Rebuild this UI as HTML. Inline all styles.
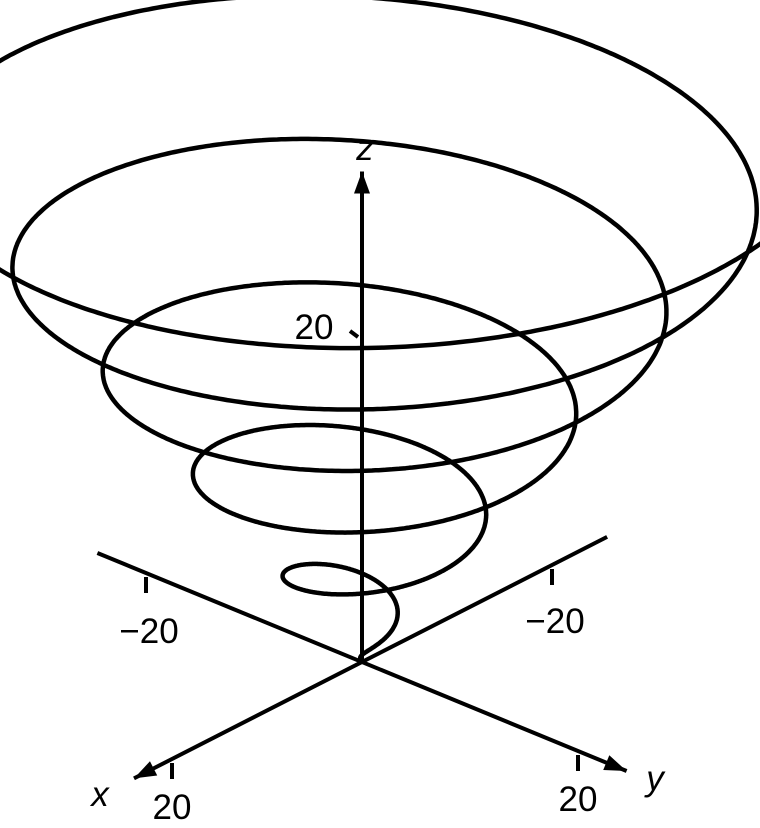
<!DOCTYPE html>
<html><head><meta charset="utf-8"><style>
html,body{margin:0;padding:0;background:#fff;}
svg{display:block;}
text{font-family:"Liberation Sans",sans-serif;font-size:35px;fill:#000;}
</style></head><body>
<svg id="chart" width="760" height="828" viewBox="0 0 760 828">
<g id="axes"></g>
<g id="curve"></g>
<g id="labels"></g>
</svg>
<script>
const xTicks=[-20,20];
const yTicks=[-20,20];
const zTicks=[20];
const tRange=[0,35.8];
const axisNames=["x","y","z"];
const O=[362,662], ex=[-9.5,4.85], ey=[10.8,4.45], ez=[0,-16.35];
function P(x,y,z){return [O[0]+x*ex[0]+y*ey[0]+z*ez[0], O[1]+x*ex[1]+y*ey[1]+z*ez[1]];}
const NS="http://www.w3.org/2000/svg";
function mk(tag,attrs,parent){const e=document.createElementNS(NS,tag);for(const k in attrs)e.setAttribute(k,attrs[k]);parent.appendChild(e);return e;}
const axes=document.getElementById('axes'), curveG=document.getElementById('curve'), labels=document.getElementById('labels');
function line(a,b,name){const l=mk('line',{x1:a[0],y1:a[1],x2:b[0],y2:b[1],stroke:'#000','stroke-width':4},axes);

return l;}
function arrow(tip,from,name){const dx=tip[0]-from[0],dy=tip[1]-from[1],L=Math.hypot(dx,dy),ux=dx/L,uy=dy/L;
const b=[tip[0]-ux*22,tip[1]-uy*22];const pts=[tip,[b[0]-uy*8,b[1]+ux*8],[b[0]+uy*8,b[1]-ux*8]].map(p=>p.join(',')).join(' ');
const a=mk('polygon',{points:pts,fill:'#000'},axes);

}
const xa=P(-25.8,0,0), xb=P(24,0,0);
line(xa,xb,'x-axis');arrow(xb,xa,'x-axis-arrow');
const ya=P(0,-24.5,0), yb=P(0,24.5,0);
line(ya,yb,'y-axis');arrow(yb,ya,'y-axis-arrow');
const za=P(0,0,0), zb=P(0,0,30);
line(za,zb,'z-axis');arrow(zb,za,'z-axis-arrow');
function txt(s,x,y,name,anchor,italic){const t=mk('text',{x:x,y:y,'text-anchor':anchor||'middle'},labels);if(italic)t.setAttribute('font-style','italic');t.textContent=s;

return t;}
function fmt(v){return v<0?'\u2212'+Math.abs(v):String(v);}
xTicks.forEach(v=>{const p=P(v,0,0);line([p[0],p[1]+4],[p[0],p[1]+20],'x-tick');txt(fmt(v),p[0]+(v<0?3:0),p[1]+(v<0?68:60),'x-tick-label');});
yTicks.forEach(v=>{const p=P(0,v,0);line([p[0],p[1]+4],[p[0],p[1]+20],'y-tick');txt(fmt(v),p[0]+(v<0?3:0),p[1]+(v<0?70:60),'y-tick-label');});
zTicks.forEach(v=>{const p=P(0,0,v);line([p[0]-12,p[1]-4],[p[0]-4,p[1]+2],'z-tick');txt(fmt(v),p[0]-48,p[1]+4,'z-tick-label');});
txt(axisNames[0],100,806,'x-axis-label','middle',true);
txt(axisNames[1],655,790,'y-axis-label','middle',true);
txt(axisNames[2],365,160,'z-axis-label','middle',true);
let d='';
for(let i=0;i<=3000;i++){const t=tRange[0]+(tRange[1]-tRange[0])*i/3000;const p=P(t*Math.cos(t),t*Math.sin(t),t);d+=(i?'L':'M')+p[0].toFixed(1)+' '+p[1].toFixed(1);}
const c=mk('path',{d:d,fill:'none',stroke:'#000','stroke-width':4.5,'stroke-linejoin':'round'},curveG);


</script>
</body></html>
